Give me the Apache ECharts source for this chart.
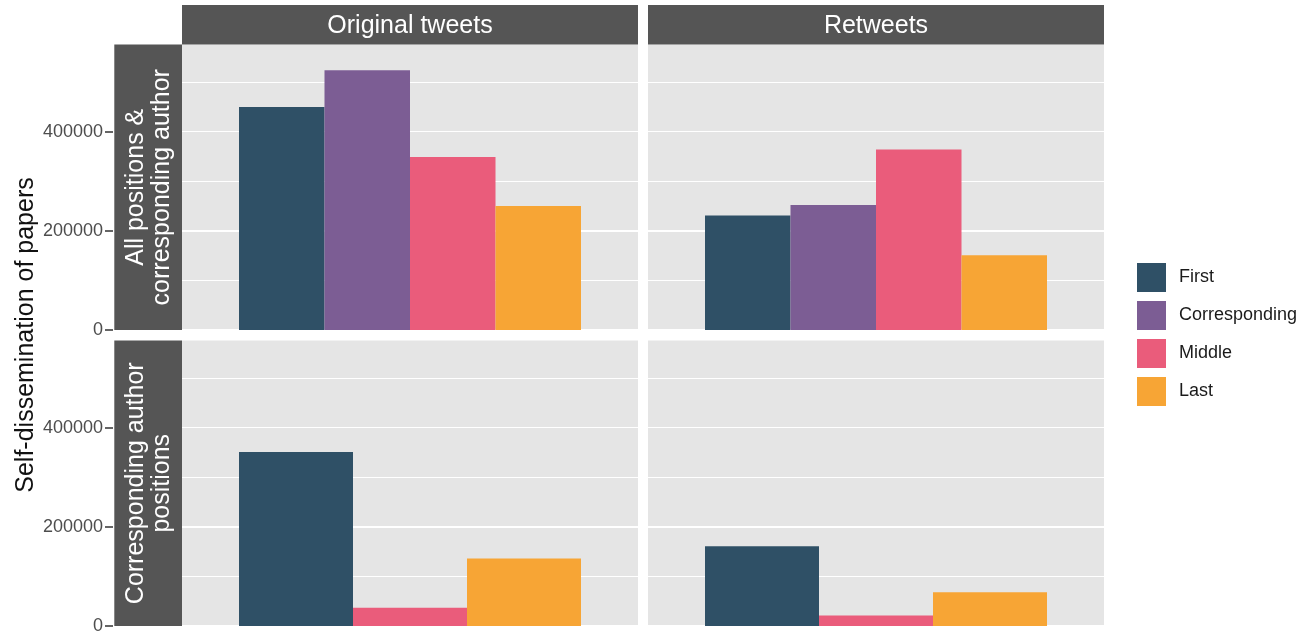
<!DOCTYPE html>
<html><head><meta charset="utf-8">
<script src="https://cdn.jsdelivr.net/npm/echarts@6/dist/echarts.min.js"></script>
<style>html,body{margin:0;padding:0;background:#fff}#c{width:1302px;height:635px}</style>
</head><body><div id="c"></div>
<script>
// ---- data ----
const columns = ['Original tweets', 'Retweets'];
const rows = ['All positions &\ncorresponding author', 'Corresponding author\npositions'];
const groups = ['First', 'Corresponding', 'Middle', 'Last'];
const allFirst = [450000, 231000];
const allCorresponding = [524000, 252000];
const allMiddle = [349000, 364000];
const allLast = [250000, 151000];
const corrFirst = [351000, 161000];
const corrMiddle = [37000, 21000];
const corrLast = [136000, 68000];
const yTicks = [0, 200000, 400000];
const yTitle = 'Self-dissemination of papers';

// ---- styling / layout ----
const colors = {First:'#2f5066', Corresponding:'#7c5d94', Middle:'#ea5c7b', Last:'#f7a535'};
const rowData = [
  {First: allFirst, Corresponding: allCorresponding, Middle: allMiddle, Last: allLast},
  {First: corrFirst, Middle: corrMiddle, Last: corrLast}
];
const FONT = '"Liberation Sans", Arial, Helvetica, sans-serif';
const panelLeft = [182, 648], panelW = 456;
const panelTop = [44.5, 340.5], panelH = 285.5;
const yMax = 576000;
const stripX = 114.3, stripW = 182 - 114.3;

const grid = [], xAxis = [], yAxis = [], series = [], graphic = [];
for (let r = 0; r < 2; r++) {
  for (let c = 0; c < 2; c++) {
    const g = r * 2 + c;
    grid.push({left: panelLeft[c], top: panelTop[r], width: panelW, height: panelH,
      show: true, backgroundColor: '#e5e5e5', borderWidth: 0, containLabel: false});
    xAxis.push({type: 'category', gridIndex: g, data: [columns[c]], show: false, boundaryGap: true});
    yAxis.push({type: 'value', gridIndex: g, min: 0, max: yMax, interval: 200000, position: 'left',
      offset: c === 0 ? 69 : 0,
      axisLine: {show: false},
      axisTick: {show: c === 0, length: 8, customValues: yTicks, lineStyle: {color: '#333', width: 1.5}},
      axisLabel: {show: c === 0, customValues: yTicks, fontSize: 18, color: '#4d4d4d', margin: 10,
        fontFamily: FONT, formatter: v => String(v)},
      splitLine: {show: true, showMaxLine: false, lineStyle: {color: '#ffffff', width: 2}}
    });
    yAxis.push({type: 'value', gridIndex: g, min: 0, max: yMax, interval: 100000, position: 'left',
      axisLine: {show: false}, axisTick: {show: false}, axisLabel: {show: false},
      splitLine: {show: true, showMaxLine: false, lineStyle: {color: '#ffffff', width: 1}}
    });
    groups.forEach(name => {
      if (!rowData[r][name]) return;
      series.push({type: 'bar', name: name, xAxisIndex: g, yAxisIndex: g * 2,
        data: [rowData[r][name][c]], barGap: '0%', barCategoryGap: '25%',
        itemStyle: {color: colors[name]}, emphasis: {disabled: true}, silent: true});
    });
  }
}
// top strips
for (let c = 0; c < 2; c++) {
  graphic.push({type: 'rect', shape: {x: panelLeft[c], y: 5, width: panelW, height: panelTop[0] - 5},
    style: {fill: '#555555'}, silent: true});
  graphic.push({type: 'text', x: panelLeft[c] + panelW / 2, y: 26,
    style: {text: columns[c], fill: '#ffffff', fontSize: 25, fontFamily: FONT, align: 'center', verticalAlign: 'middle'}, silent: true});
}
// left strips
for (let r = 0; r < 2; r++) {
  graphic.push({type: 'rect', shape: {x: stripX, y: panelTop[r], width: stripW, height: panelH},
    style: {fill: '#555555'}, silent: true});
  graphic.push({type: 'text', x: stripX + stripW / 2 + 0.5, y: panelTop[r] + panelH / 2, rotation: Math.PI / 2,
    style: {text: rows[r], fill: '#ffffff', fontSize: 25, lineHeight: 26, fontFamily: FONT, align: 'center', verticalAlign: 'middle'}, silent: true});
}
// y title
graphic.push({type: 'text', x: 26, y: 335, rotation: Math.PI / 2,
  style: {text: yTitle, fill: '#111111', fontSize: 25, fontFamily: FONT, align: 'center', verticalAlign: 'middle'}, silent: true});

const chart = echarts.init(document.getElementById('c'), null, {renderer: 'canvas'});
chart.setOption({
  animation: false,
  backgroundColor: '#ffffff',
  grid, xAxis, yAxis, series, graphic,
  legend: {orient: 'vertical', left: 1137, top: 263, itemWidth: 29, itemHeight: 29, itemGap: 9,
    icon: 'rect', padding: 0, data: groups, selectedMode: false,
    textStyle: {fontSize: 18, color: '#1a1a1a', fontFamily: FONT, padding: [0, 0, 0, 8]}}
});
</script></body></html>
